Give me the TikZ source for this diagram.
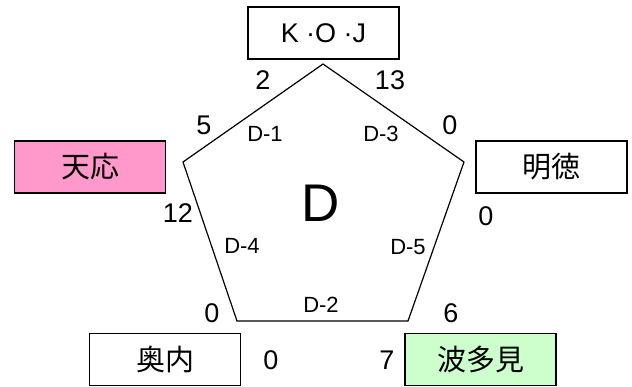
\documentclass[tikz,border=0pt]{standalone}
\usepackage{fontspec}
\setmainfont{Liberation Sans}
\newfontfamily\cjk{Noto Sans CJK JP}
\usetikzlibrary{positioning}
\definecolor{tennopink}{RGB}{255,153,204}
\definecolor{hatamigreen}{RGB}{204,255,204}
\begin{document}
\begin{tikzpicture}[x=1pt,y=-1pt]
    \tikzstyle{every node}=[inner sep=0]
    \tikzstyle{school}=[draw=black,line width=1.2,minimum width=151,minimum height=52,font=\fontsize{29}{29}\selectfont\cjk]
    \tikzstyle{score}=[font=\fontsize{27}{27}\selectfont]
    \tikzstyle{match}=[font=\fontsize{22}{22}\selectfont]
    \useasboundingbox (0,0) rectangle (632,387);
    {
        % pentagon corners
        \coordinate (top) at (323,64);
        \coordinate (ur) at (464,162);
        \coordinate (br) at (408,321);
        \coordinate (bl) at (237,321);
        \coordinate (ul) at (183,162);
        \draw[line width=1.2] (top) -- (ur) -- (br) -- (bl) -- (ul) -- cycle;

        % schools
        \node[school] (koj) at (323.5,33) {\fontspec{Liberation Sans}\fontsize{27}{27}\selectfont K ·O ·J};
        \node[school,fill=tennopink] (tenno) at (90,167) {天応};
        \node[school] (meitoku) at (551.5,167) {明徳};
        \node[school] (okuuchi) at (165,359.5) {奥内};
        \node[school,fill=hatamigreen] (hatami) at (480.5,359.5) {波多見};

        % scores
        \node[score] (s1) at (263,80) {2};
        \node[score] (s2) at (390,80) {13};
        \node[score] (s3) at (204,125) {5};
        \node[score] (s4) at (450,125) {0};
        \node[score] (s5) at (178,213) {12};
        \node[score] (s6) at (486,216) {0};
        \node[score] (s7) at (212,313) {0};
        \node[score] (s8) at (451,313) {6};
        \node[score] (s9) at (271,360) {0};
        \node[score] (s10) at (387,360) {7};

        % matches
        \node[match] (m1) at (265,134) {D-1};
        \node[match] (m3) at (381,134) {D-3};
        \node[match] (m4) at (242,246) {D-4};
        \node[match] (m5) at (408,247) {D-5};
        \node[match] (m2) at (321,305) {D-2};
        \node[font=\fontsize{53}{53}\selectfont] (grp) at (321,203) {D};
    }
\end{tikzpicture}
\end{document}
